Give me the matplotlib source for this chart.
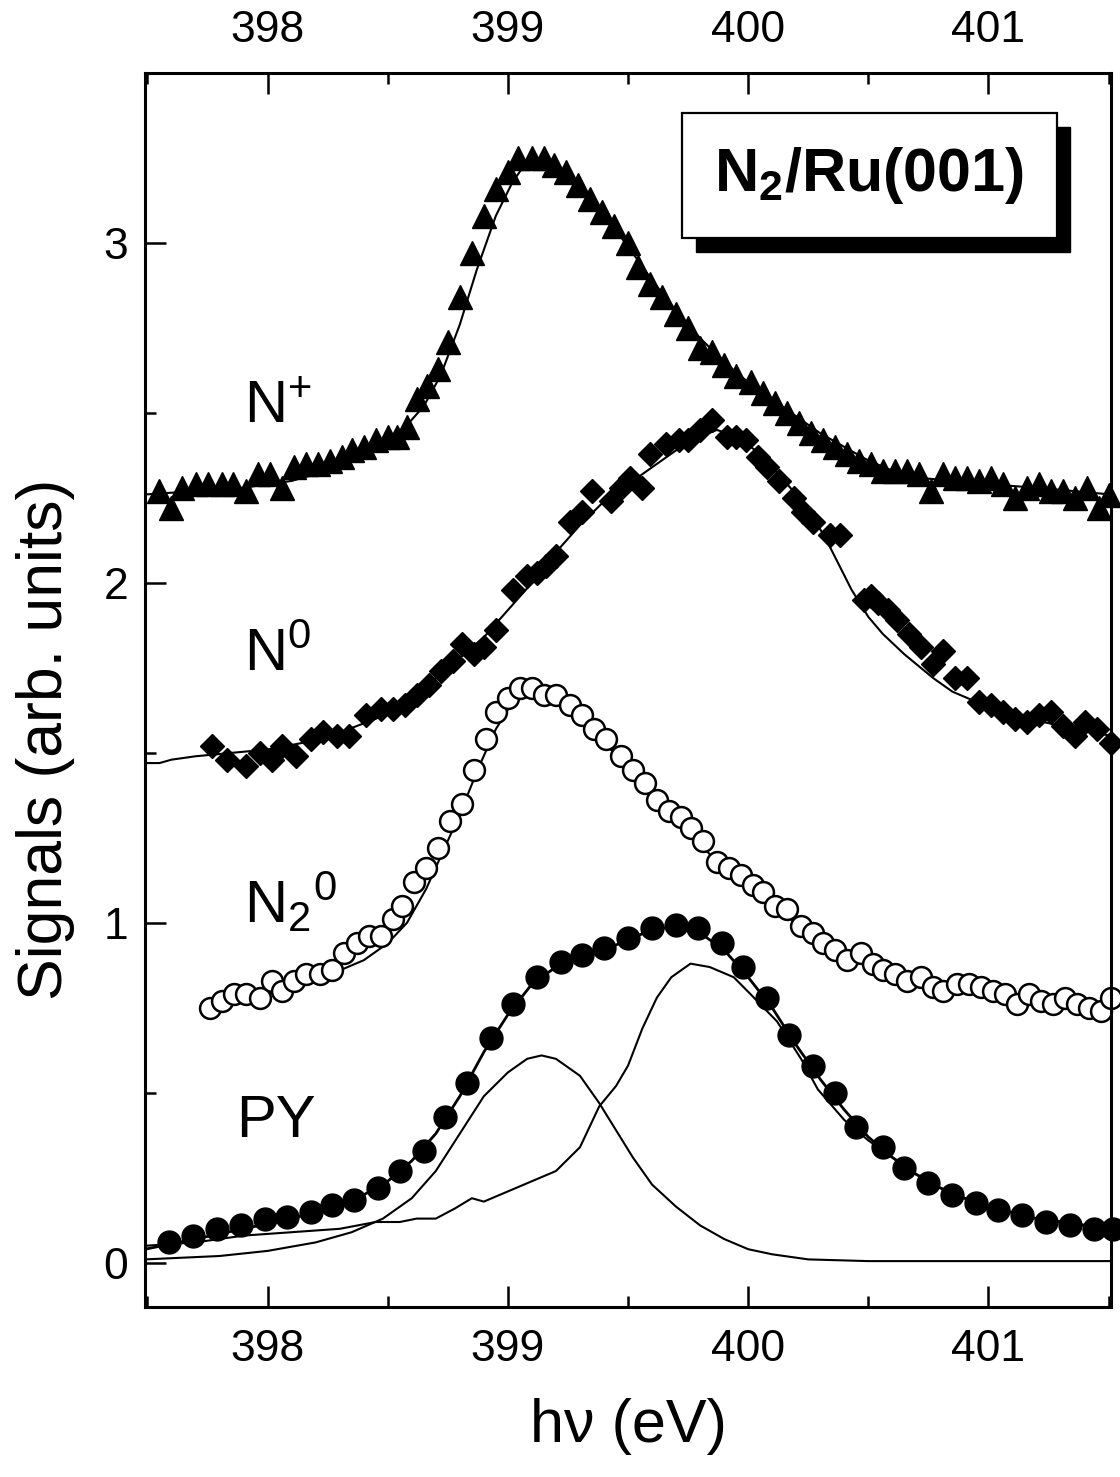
import matplotlib
matplotlib.use("Agg")
import matplotlib.pyplot as plt
from matplotlib.patches import Rectangle
from matplotlib.ticker import MultipleLocator

plt.rcParams['font.family'] = ['Liberation Sans', 'DejaVu Sans']
plt.rcParams['mathtext.fontset'] = 'custom'
plt.rcParams['mathtext.rm'] = 'Liberation Sans'
plt.rcParams['mathtext.bf'] = 'Liberation Sans:bold'
plt.rcParams['mathtext.default'] = 'regular'

# --- N+ (triangles) ---
nplus_x = [397.55, 397.60, 397.645, 397.70, 397.75, 397.81, 397.855, 397.91, 397.96, 398.01,
           398.06, 398.11, 398.16, 398.21, 398.26, 398.31, 398.35, 398.40, 398.45, 398.50,
           398.54, 398.58, 398.62, 398.665, 398.71, 398.75, 398.80, 398.85, 398.90, 398.95,
           399.00, 399.04, 399.10, 399.15, 399.19, 399.24, 399.29, 399.34, 399.39, 399.44,
           399.50, 399.54, 399.59, 399.64, 399.70, 399.75, 399.80, 399.85, 399.90, 399.95,
           400.01, 400.06, 400.11, 400.16, 400.21, 400.26, 400.31, 400.36, 400.41, 400.46,
           400.51, 400.56, 400.61, 400.66, 400.71, 400.76, 400.81, 400.86, 400.91, 400.96,
           401.01, 401.06, 401.11, 401.16, 401.21, 401.26, 401.31, 401.36, 401.41, 401.46,
           401.50]
nplus_y = [2.27, 2.22, 2.28, 2.29, 2.29, 2.29, 2.29, 2.27, 2.32, 2.32,
           2.28, 2.34, 2.35, 2.35, 2.36, 2.37, 2.39, 2.40, 2.42, 2.43,
           2.43, 2.46, 2.54, 2.58, 2.63, 2.71, 2.84, 2.97, 3.08, 3.16,
           3.21, 3.25, 3.25, 3.25, 3.23, 3.21, 3.17, 3.13, 3.09, 3.05,
           3.00, 2.93, 2.88, 2.84, 2.79, 2.75, 2.69, 2.68, 2.64, 2.61,
           2.59, 2.56, 2.53, 2.50, 2.47, 2.44, 2.42, 2.40, 2.38, 2.36,
           2.35, 2.33, 2.33, 2.33, 2.32, 2.27, 2.32, 2.31, 2.31, 2.30,
           2.31, 2.29, 2.25, 2.28, 2.29, 2.27, 2.27, 2.25, 2.28, 2.22,
           2.26]
nplus_fit_x = [397.49, 397.7, 397.9, 398.1, 398.3, 398.45, 398.55, 398.65, 398.72, 398.8,
               398.87, 398.95, 399.02, 399.08, 399.14, 399.2, 399.3, 399.4, 399.5, 399.6,
               399.7, 399.8, 399.9, 400.0, 400.1, 400.2, 400.3, 400.4, 400.5, 400.6,
               400.7, 400.85, 401.0, 401.2, 401.51]
nplus_fit_y = [2.26, 2.27, 2.28, 2.30, 2.34, 2.39, 2.44, 2.52, 2.61, 2.76,
               2.92, 3.08, 3.18, 3.24, 3.25, 3.23, 3.16, 3.08, 2.99, 2.89,
               2.80, 2.72, 2.65, 2.59, 2.54, 2.49, 2.44, 2.40, 2.36, 2.33,
               2.31, 2.30, 2.29, 2.28, 2.26]

# --- N0 (diamonds) ---
n0_x = [397.77, 397.83, 397.91, 397.97, 398.02, 398.06, 398.12, 398.18, 398.23, 398.29,
        398.34, 398.41, 398.47, 398.52, 398.57, 398.62, 398.67, 398.72, 398.77, 398.81,
        398.86, 398.90, 398.95, 399.02, 399.08, 399.12, 399.16, 399.20, 399.26, 399.31,
        399.35, 399.43, 399.47, 399.51, 399.56, 399.59, 399.66, 399.71, 399.75, 399.80,
        399.85, 399.91, 399.95, 399.99, 400.04, 400.08, 400.13, 400.19, 400.23, 400.27,
        400.34, 400.38, 400.48, 400.51, 400.54, 400.58, 400.62, 400.67, 400.72, 400.77,
        400.81, 400.86, 400.91, 400.96, 401.01, 401.06, 401.11, 401.16, 401.21, 401.26,
        401.31, 401.36, 401.40, 401.45, 401.51]
n0_y = [1.52, 1.48, 1.46, 1.50, 1.48, 1.52, 1.49, 1.54, 1.56, 1.55,
        1.55, 1.61, 1.63, 1.63, 1.64, 1.67, 1.70, 1.74, 1.77, 1.82,
        1.79, 1.81, 1.86, 1.98, 2.02, 2.03, 2.05, 2.08, 2.18, 2.21,
        2.27, 2.24, 2.28, 2.31, 2.28, 2.38, 2.41, 2.42, 2.42, 2.45,
        2.48, 2.43, 2.43, 2.42, 2.37, 2.34, 2.30, 2.25, 2.21, 2.18,
        2.14, 2.14, 1.95, 1.96, 1.94, 1.92, 1.89, 1.85, 1.81, 1.76,
        1.80, 1.72, 1.72, 1.65, 1.64, 1.62, 1.60, 1.59, 1.61, 1.62,
        1.58, 1.55, 1.59, 1.57, 1.53]
n0_fit_x = [397.49, 397.55, 397.60, 397.70, 397.85, 398.0, 398.15, 398.3, 398.45, 398.6,
            398.75, 398.9, 399.0, 399.1, 399.2, 399.3, 399.4, 399.5, 399.6, 399.7,
            399.8, 399.87, 399.95, 400.05, 400.15, 400.25, 400.33, 400.38, 400.43, 400.5,
            400.56, 400.65, 400.77, 400.85, 400.95, 401.1, 401.3, 401.51]
n0_fit_y = [1.47, 1.47, 1.48, 1.49, 1.50, 1.51, 1.53, 1.56, 1.60, 1.66,
            1.75, 1.84, 1.92, 2.00, 2.09, 2.17, 2.24, 2.29, 2.34, 2.39,
            2.43, 2.45, 2.43, 2.38, 2.30, 2.22, 2.12, 2.05, 1.98, 1.90,
            1.85, 1.79, 1.72, 1.68, 1.65, 1.61, 1.58, 1.55]

# --- N2^0 (open circles) ---
n20_x = [397.76, 397.81, 397.86, 397.91, 397.97, 398.02, 398.06, 398.11, 398.16, 398.22,
         398.27, 398.32, 398.37, 398.42, 398.47, 398.52, 398.56, 398.61, 398.66, 398.71,
         398.76, 398.81, 398.86, 398.91, 398.95, 399.00, 399.05, 399.10, 399.15, 399.20,
         399.26, 399.31, 399.36, 399.41, 399.47, 399.52, 399.57, 399.62, 399.67, 399.72,
         399.76, 399.81, 399.87, 399.92, 399.97, 400.02, 400.06, 400.11, 400.16, 400.22,
         400.27, 400.31, 400.36, 400.41, 400.47, 400.52, 400.56, 400.61, 400.66, 400.72,
         400.77, 400.81, 400.87, 400.92, 400.97, 401.02, 401.07, 401.12, 401.17, 401.22,
         401.27, 401.32, 401.37, 401.42, 401.47, 401.51]
n20_y = [0.75, 0.77, 0.79, 0.79, 0.78, 0.83, 0.80, 0.83, 0.85, 0.85,
         0.86, 0.91, 0.94, 0.96, 0.96, 1.01, 1.05, 1.12, 1.16, 1.22,
         1.30, 1.35, 1.45, 1.54, 1.62, 1.66, 1.69, 1.69, 1.67, 1.67,
         1.64, 1.61, 1.57, 1.54, 1.49, 1.45, 1.41, 1.36, 1.33, 1.31,
         1.28, 1.24, 1.18, 1.16, 1.14, 1.11, 1.09, 1.05, 1.04, 0.99,
         0.97, 0.94, 0.92, 0.89, 0.91, 0.88, 0.86, 0.85, 0.83, 0.84,
         0.81, 0.80, 0.82, 0.82, 0.81, 0.80, 0.79, 0.76, 0.79, 0.77,
         0.76, 0.78, 0.76, 0.75, 0.74, 0.78]
n20_fit_x = [397.75, 397.9, 398.0, 398.15, 398.3, 398.4, 398.5, 398.58, 398.66, 398.73,
             398.8, 398.88, 398.95, 399.02, 399.08, 399.14, 399.2, 399.3, 399.4, 399.5,
             399.6, 399.7, 399.8, 399.9, 400.0, 400.1, 400.2, 400.3, 400.4, 400.5,
             400.6, 400.7, 400.8, 400.9, 401.0, 401.2, 401.51]
n20_fit_y = [0.75, 0.77, 0.79, 0.82, 0.86, 0.89, 0.94, 1.00, 1.10, 1.21,
             1.32, 1.46, 1.57, 1.65, 1.68, 1.68, 1.66, 1.60, 1.53, 1.46,
             1.38, 1.30, 1.23, 1.16, 1.10, 1.05, 1.00, 0.95, 0.91, 0.88,
             0.85, 0.83, 0.81, 0.80, 0.79, 0.77, 0.76]

# --- PY (filled circles), fit and two components ---
py_x = [397.59, 397.69, 397.79, 397.89, 397.99, 398.08, 398.18, 398.27, 398.36, 398.46,
        398.55, 398.65, 398.74, 398.83, 398.93, 399.02, 399.12, 399.22, 399.31, 399.40,
        399.50, 399.60, 399.70, 399.79, 399.89, 399.98, 400.08, 400.17, 400.27, 400.36,
        400.45, 400.56, 400.65, 400.75, 400.85, 400.95, 401.04, 401.14, 401.24, 401.34,
        401.44, 401.52]
py_y = [0.06, 0.08, 0.10, 0.11, 0.13, 0.135, 0.15, 0.17, 0.185, 0.22,
        0.27, 0.33, 0.43, 0.53, 0.66, 0.76, 0.84, 0.885, 0.905, 0.925,
        0.955, 0.985, 0.995, 0.985, 0.94, 0.87, 0.78, 0.67, 0.58, 0.50,
        0.40, 0.34, 0.28, 0.235, 0.20, 0.175, 0.155, 0.14, 0.12, 0.11,
        0.10, 0.10]
py_fit_x = [397.49, 397.7, 397.9, 398.1, 398.3, 398.4, 398.5, 398.6, 398.7, 398.8,
            398.9, 399.0, 399.1, 399.2, 399.3, 399.4, 399.5, 399.6, 399.7, 399.8,
            399.9, 400.0, 400.1, 400.2, 400.3, 400.4, 400.5, 400.6, 400.7, 400.8,
            400.9, 401.0, 401.2, 401.51]
py_fit_y = [0.04, 0.07, 0.10, 0.13, 0.17, 0.20, 0.24, 0.30, 0.38, 0.49,
            0.62, 0.73, 0.82, 0.87, 0.90, 0.92, 0.95, 0.98, 0.99, 0.97,
            0.92, 0.84, 0.75, 0.64, 0.54, 0.45, 0.37, 0.31, 0.26, 0.22,
            0.19, 0.165, 0.13, 0.10]
comp1_x = [397.49, 397.8, 398.0, 398.2, 398.35, 398.48, 398.6, 398.7, 398.8, 398.9,
           399.0, 399.08, 399.14, 399.2, 399.3, 399.38, 399.45, 399.52, 399.6, 399.7,
           399.8, 399.9, 400.0, 400.1, 400.25, 400.5, 401.51]
comp1_y = [0.01, 0.02, 0.035, 0.06, 0.09, 0.13, 0.19, 0.27, 0.38, 0.49,
           0.56, 0.60, 0.61, 0.60, 0.55, 0.47, 0.39, 0.31, 0.23, 0.165,
           0.11, 0.07, 0.04, 0.025, 0.01, 0.005, 0.005]
comp2_x = [397.49, 397.7, 397.9, 398.1, 398.3, 398.45, 398.55, 398.62, 398.7, 398.78,
           398.85, 398.9, 399.0, 399.1, 399.2, 399.3, 399.38, 399.45, 399.5, 399.56,
           399.62, 399.68, 399.76, 399.84, 399.94, 400.01, 400.12, 400.22, 400.29, 400.4,
           400.5, 400.6, 400.7, 400.8, 400.9, 401.0, 401.2, 401.51]
comp2_y = [0.05, 0.06, 0.08, 0.09, 0.10, 0.12, 0.12, 0.13, 0.13, 0.16,
           0.19, 0.18, 0.21, 0.24, 0.27, 0.34, 0.46, 0.52, 0.58, 0.69,
           0.78, 0.84, 0.88, 0.87, 0.84, 0.79, 0.71, 0.60, 0.51, 0.42,
           0.36, 0.31, 0.26, 0.22, 0.19, 0.165, 0.13, 0.10]

fig = plt.figure(figsize=(11.2, 14.77), dpi=100)
ax = fig.add_axes([0.1295, 0.1151, 0.8625, 0.8355])

lw = 1.5
ax.plot(nplus_fit_x, nplus_fit_y, color='black', lw=lw)
ax.plot(nplus_x, nplus_y, '^', color='black', ms=17, clip_on=False)

ax.plot(n0_fit_x, n0_fit_y, color='black', lw=lw)
ax.plot(n0_x, n0_y, 'D', color='black', ms=12.5, clip_on=False)

ax.plot(n20_fit_x, n20_fit_y, color='black', lw=lw)
ax.plot(n20_x, n20_y, 'o', mfc='white', mec='black', mew=1.8, ms=15, clip_on=False)

ax.plot(comp1_x, comp1_y, color='black', lw=lw)
ax.plot(comp2_x, comp2_y, color='black', lw=lw)
ax.plot(py_fit_x, py_fit_y, color='black', lw=lw + 0.5)
ax.plot(py_x, py_y, 'o', color='black', ms=16.5, clip_on=False)

ax.set_xlim(397.49, 401.51)
ax.set_ylim(-0.13, 3.5)

ax.xaxis.set_major_locator(MultipleLocator(1))
ax.xaxis.set_minor_locator(MultipleLocator(0.5))
ax.yaxis.set_major_locator(MultipleLocator(1))
ax.yaxis.set_minor_locator(MultipleLocator(0.5))
ax.tick_params(which='both', direction='in', top=True, bottom=True, left=True, right=False,
               labeltop=True, labelsize=32, width=1.8)
ax.tick_params(which='major', length=15)
ax.tick_params(which='minor', length=8)
ax.tick_params(axis='x', pad=16)
ax.tick_params(axis='y', pad=12)
for sp in ax.spines.values():
    sp.set_linewidth(2.2)

ax.set_xlabel('hν (eV)', fontsize=44, labelpad=20)
ax.set_ylabel('Signals (arb. units)', fontsize=45)
ax.yaxis.set_label_coords(-0.072, 0.46)

ax.text(397.90, 2.47, 'N$^{+}$', fontsize=43)
ax.text(397.90, 1.74, 'N$^{0}$', fontsize=43)
ax.text(397.90, 1.00, 'N$_{2}$$^{0}$', fontsize=43)
ax.text(397.87, 0.37, 'PY', fontsize=43)

# sample box with drop shadow
ax.add_patch(Rectangle((0.570, 0.855), 0.388, 0.1015, transform=ax.transAxes,
                       facecolor='black', edgecolor='black', zorder=5))
ax.add_patch(Rectangle((0.556, 0.866), 0.388, 0.1015, transform=ax.transAxes,
                       facecolor='white', edgecolor='black', lw=1.6, zorder=6))
ax.text(0.750, 0.917, r'N$_\mathbf{2}$/Ru(001)', transform=ax.transAxes, fontsize=44,
        fontweight='bold', ha='center', va='center', zorder=7)

fig.savefig('out.png', dpi=100)
